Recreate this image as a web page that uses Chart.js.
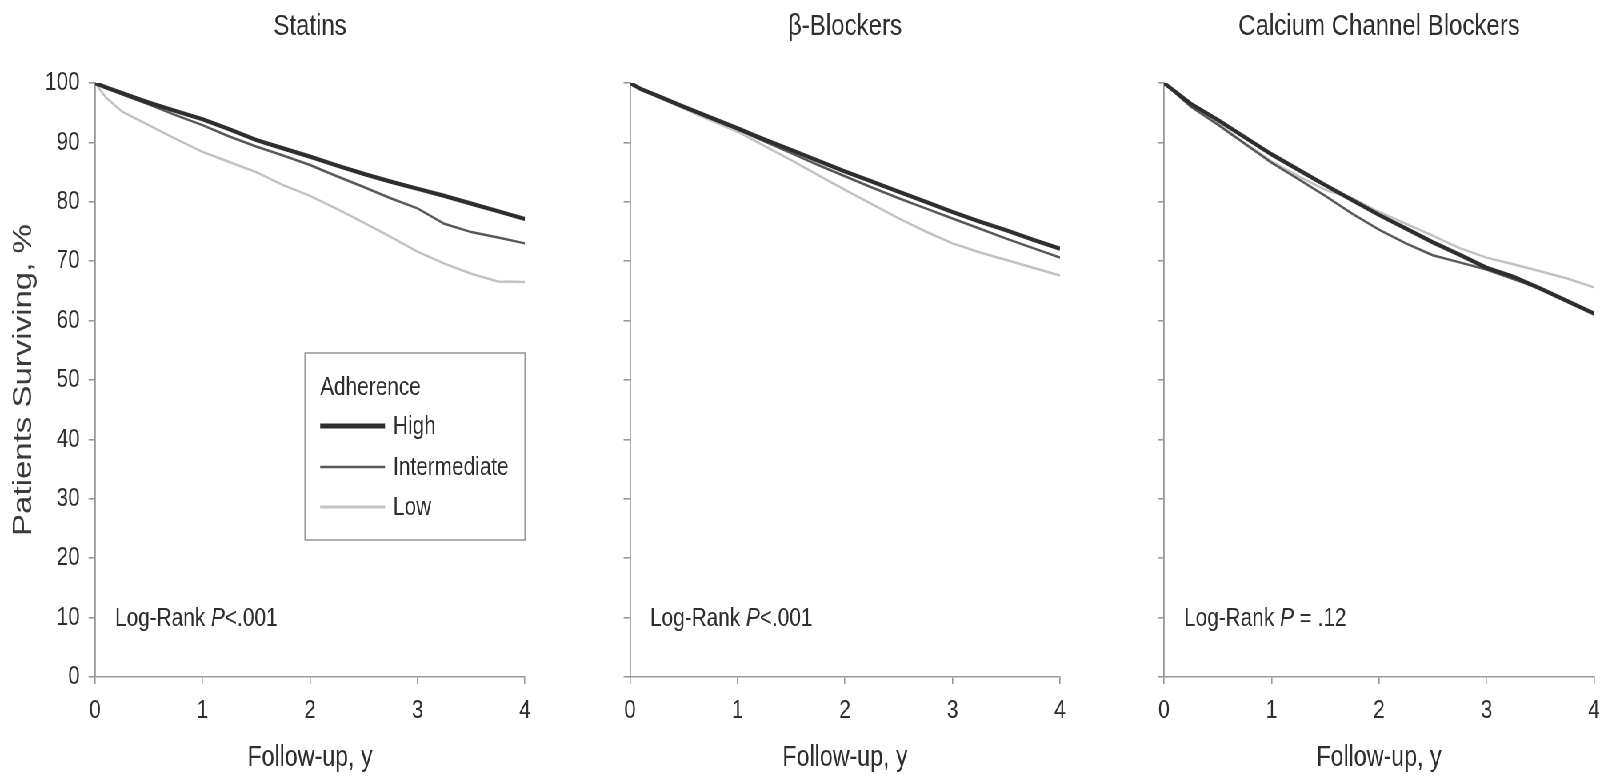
<!DOCTYPE html>
<html>
<head>
<meta charset="utf-8">
<script src="https://cdn.jsdelivr.net/npm/chart.js@4.4.1/dist/chart.umd.min.js"></script>
<style>
html,body{margin:0;padding:0;background:#fff;overflow:hidden;width:1614px;height:778px}
/* the reference figure is horizontally condensed; draw wide and squeeze */
#wrap{position:absolute;left:0;top:0;width:2018px;height:778px;background:#fff;transform:scaleX(0.8);transform-origin:0 0}
#wrap canvas{position:absolute;left:0;top:0}
</style>
</head>
<body>
<div id="wrap">
<canvas id="c0" width="2018" height="778"></canvas>
<canvas id="c1" width="2018" height="778"></canvas>
<canvas id="c2" width="2018" height="778"></canvas>
</div>
<script>
// ---------- data ----------
const panelTitles = ['Statins', 'β-Blockers', 'Calcium Channel Blockers'];
const seriesNames = ['High', 'Intermediate', 'Low'];
const legendTitle = 'Adherence';
const xAxisTitle = 'Follow-up, y';
const yAxisTitle = 'Patients Surviving, %';
const logRankLabel = 'Log-Rank ';
const logRankPValues = ['<.001', '<.001', ' = .12'];
const xTickLabels = ['0', '1', '2', '3', '4'];
const yTickLabels = ['0', '10', '20', '30', '40', '50', '60', '70', '80', '90', '100'];

const followUpYears = [0, 0.1, 0.25, 0.5, 0.75, 1, 1.25, 1.5, 1.75, 2, 2.25, 2.5, 2.75, 3, 3.25, 3.5, 3.75, 4];

const statinsHigh         = [100, 99.3, 98.3, 96.7, 95.3, 93.9, 92.2, 90.4, 89.0, 87.6, 86.1, 84.7, 83.4, 82.2, 81.0, 79.7, 78.4, 77.1];
const statinsIntermediate = [100, 99.2, 98.1, 96.4, 94.6, 92.9, 91.0, 89.3, 87.8, 86.2, 84.3, 82.5, 80.6, 78.9, 76.3, 74.9, 74.0, 73.0];
const statinsLow          = [100, 97.6, 95.2, 92.9, 90.6, 88.4, 86.7, 85.0, 82.8, 81.0, 78.8, 76.5, 74.1, 71.6, 69.6, 67.9, 66.6, 66.5];

const betaHigh         = [100, 99.0, 97.9, 96.0, 94.2, 92.4, 90.5, 88.7, 86.9, 85.1, 83.4, 81.7, 80.0, 78.3, 76.7, 75.2, 73.6, 72.1];
const betaIntermediate = [100, 99.0, 97.8, 95.9, 94.0, 92.2, 90.2, 88.2, 86.2, 84.3, 82.4, 80.6, 78.9, 77.2, 75.5, 73.8, 72.2, 70.6];
const betaLow          = [100, 99.0, 97.7, 95.7, 93.7, 91.8, 89.4, 87.0, 84.5, 82.0, 79.6, 77.2, 75.0, 73.0, 71.5, 70.2, 68.9, 67.6];

const ccbHigh         = [100, 98.6, 96.5, 93.8, 90.9, 88.0, 85.4, 82.8, 80.3, 77.8, 75.5, 73.2, 71.1, 68.9, 67.4, 65.4, 63.3, 61.2];
const ccbIntermediate = [100, 98.4, 96.0, 93.0, 89.8, 86.6, 83.8, 81.0, 78.0, 75.3, 73.0, 71.0, 69.8, 68.6, 67.0, 65.4, 63.3, 61.2];
const ccbLow          = [100, 98.5, 96.2, 93.2, 89.9, 86.8, 84.3, 82.0, 80.6, 78.3, 76.3, 74.3, 72.2, 70.6, 69.5, 68.3, 67.1, 65.6];

const panelSeries = [
  [statinsHigh, statinsIntermediate, statinsLow],
  [betaHigh, betaIntermediate, betaLow],
  [ccbHigh, ccbIntermediate, ccbLow]
];

// ---------- styling / layout ----------
const SQUEEZE = 0.8;
const FONT = "'Liberation Sans', Arial, Helvetica, sans-serif";
const TEXT = '#2e2e2e';
const AXIS = '#999';
const lineColors = ['#2e2e2e', '#585858', '#c2c2c2'];
const lineWidths = [4.2, 2.5, 2.5];
const legendWidths = [5, 2.6, 3];

const W = 2018, H = 778;
const plotTop = 83, plotBottom = 677;
// plot-area left/right in page pixels, converted to the wide drawing space
const plotLR = [[95, 525], [630, 1060], [1164, 1594]].map(p => p.map(v => v / SQUEEZE));
const yAxisLeft = [10, null, null];

function annotations(idx) {
  return {
    id: 'annot' + idx,
    afterDraw(chart) {
      const ctx = chart.ctx, a = chart.chartArea;
      ctx.save();
      ctx.fillStyle = TEXT;
      ctx.textBaseline = 'middle';
      // panel title
      ctx.textAlign = 'center';
      ctx.font = `30px ${FONT}`;
      ctx.fillText(panelTitles[idx], (a.left + a.right) / 2, 27);
      // log-rank
      ctx.textAlign = 'left';
      let x = a.left + 25;
      const y = 619;
      ctx.font = `26px ${FONT}`;
      ctx.fillText(logRankLabel, x, y);
      x += ctx.measureText(logRankLabel).width;
      ctx.font = `italic 26px ${FONT}`;
      ctx.fillText('P', x, y);
      x += ctx.measureText('P').width;
      ctx.font = `26px ${FONT}`;
      ctx.fillText(logRankPValues[idx], x, y);

      if (idx === 0) {
        const bw = 275, bh = 187;
        const bx = a.right - bw, by = a.top + 270;
        ctx.strokeStyle = AXIS;
        ctx.lineWidth = 1.6;
        ctx.strokeRect(bx, by, bw, bh);
        ctx.font = `26px ${FONT}`;
        ctx.fillStyle = TEXT;
        ctx.fillText(legendTitle, bx + 19, by + 35);
        const rows = [73, 114, 154];
        seriesNames.forEach((name, i) => {
          const ly = by + rows[i];
          ctx.beginPath();
          ctx.strokeStyle = lineColors[i];
          ctx.lineWidth = legendWidths[i];
          ctx.moveTo(bx + 19, ly);
          ctx.lineTo(bx + 100, ly);
          ctx.stroke();
          ctx.fillStyle = TEXT;
          ctx.fillText(name, bx + 110, ly + 1);
        });
      }
      ctx.restore();
    }
  };
}

function makeChart(idx) {
  const [L, R] = plotLR[idx];
  const yW = idx === 0 ? L - yAxisLeft[0] : 30;
  const datasets = panelSeries[idx].map((vals, i) => ({
    label: seriesNames[i],
    data: followUpYears.map((t, k) => ({ x: t, y: vals[k] })),
    borderColor: lineColors[i],
    borderWidth: lineWidths[i],
    pointRadius: 0,
    tension: 0,
    fill: false
  }));
  new Chart(document.getElementById('c' + idx), {
    type: 'line',
    data: { datasets },
    plugins: [annotations(idx)],
    options: {
      responsive: false,
      animation: false,
      devicePixelRatio: 1,
      layout: { padding: { left: L - yW, right: W - R, top: plotTop, bottom: 0 } },
      plugins: { legend: { display: false }, tooltip: { enabled: false }, title: { display: false } },
      scales: {
        x: {
          type: 'linear', min: 0, max: 4,
          afterFit(s) { s.height = H - plotBottom; },
          border: { display: true, color: AXIS, width: 1.6 },
          grid: { drawOnChartArea: false, drawTicks: true, tickLength: 7, color: AXIS, lineWidth: 1.6 },
          ticks: {
            stepSize: 1, padding: 11, color: TEXT, maxRotation: 0, autoSkip: false,
            font: { family: FONT, size: 26 },
            callback: (v) => xTickLabels[Math.round(v)] ?? ''
          },
          title: { display: true, text: xAxisTitle, color: TEXT, font: { family: FONT, size: 29 }, padding: { top: 0, bottom: 3 } }
        },
        y: {
          type: 'linear', min: 0, max: 100,
          afterFit(s) { s.width = yW; },
          border: { display: true, color: AXIS, width: 1.8 },
          grid: { drawOnChartArea: false, drawTicks: true, tickLength: 8, color: AXIS, lineWidth: 1.6 },
          ticks: {
            stepSize: 10, padding: 11, color: TEXT, autoSkip: false,
            font: { family: FONT, size: 26 },
            callback: (v) => idx === 0 ? (yTickLabels[Math.round(v / 10)] ?? '') : ''
          },
          title: { display: idx === 0, text: yAxisTitle, color: '#3a3a3a', font: { family: FONT, size: 33 }, padding: { top: 0, bottom: 0 } }
        }
      }
    }
  });
}

[0, 1, 2].forEach(makeChart);
</script>
</body>
</html>
